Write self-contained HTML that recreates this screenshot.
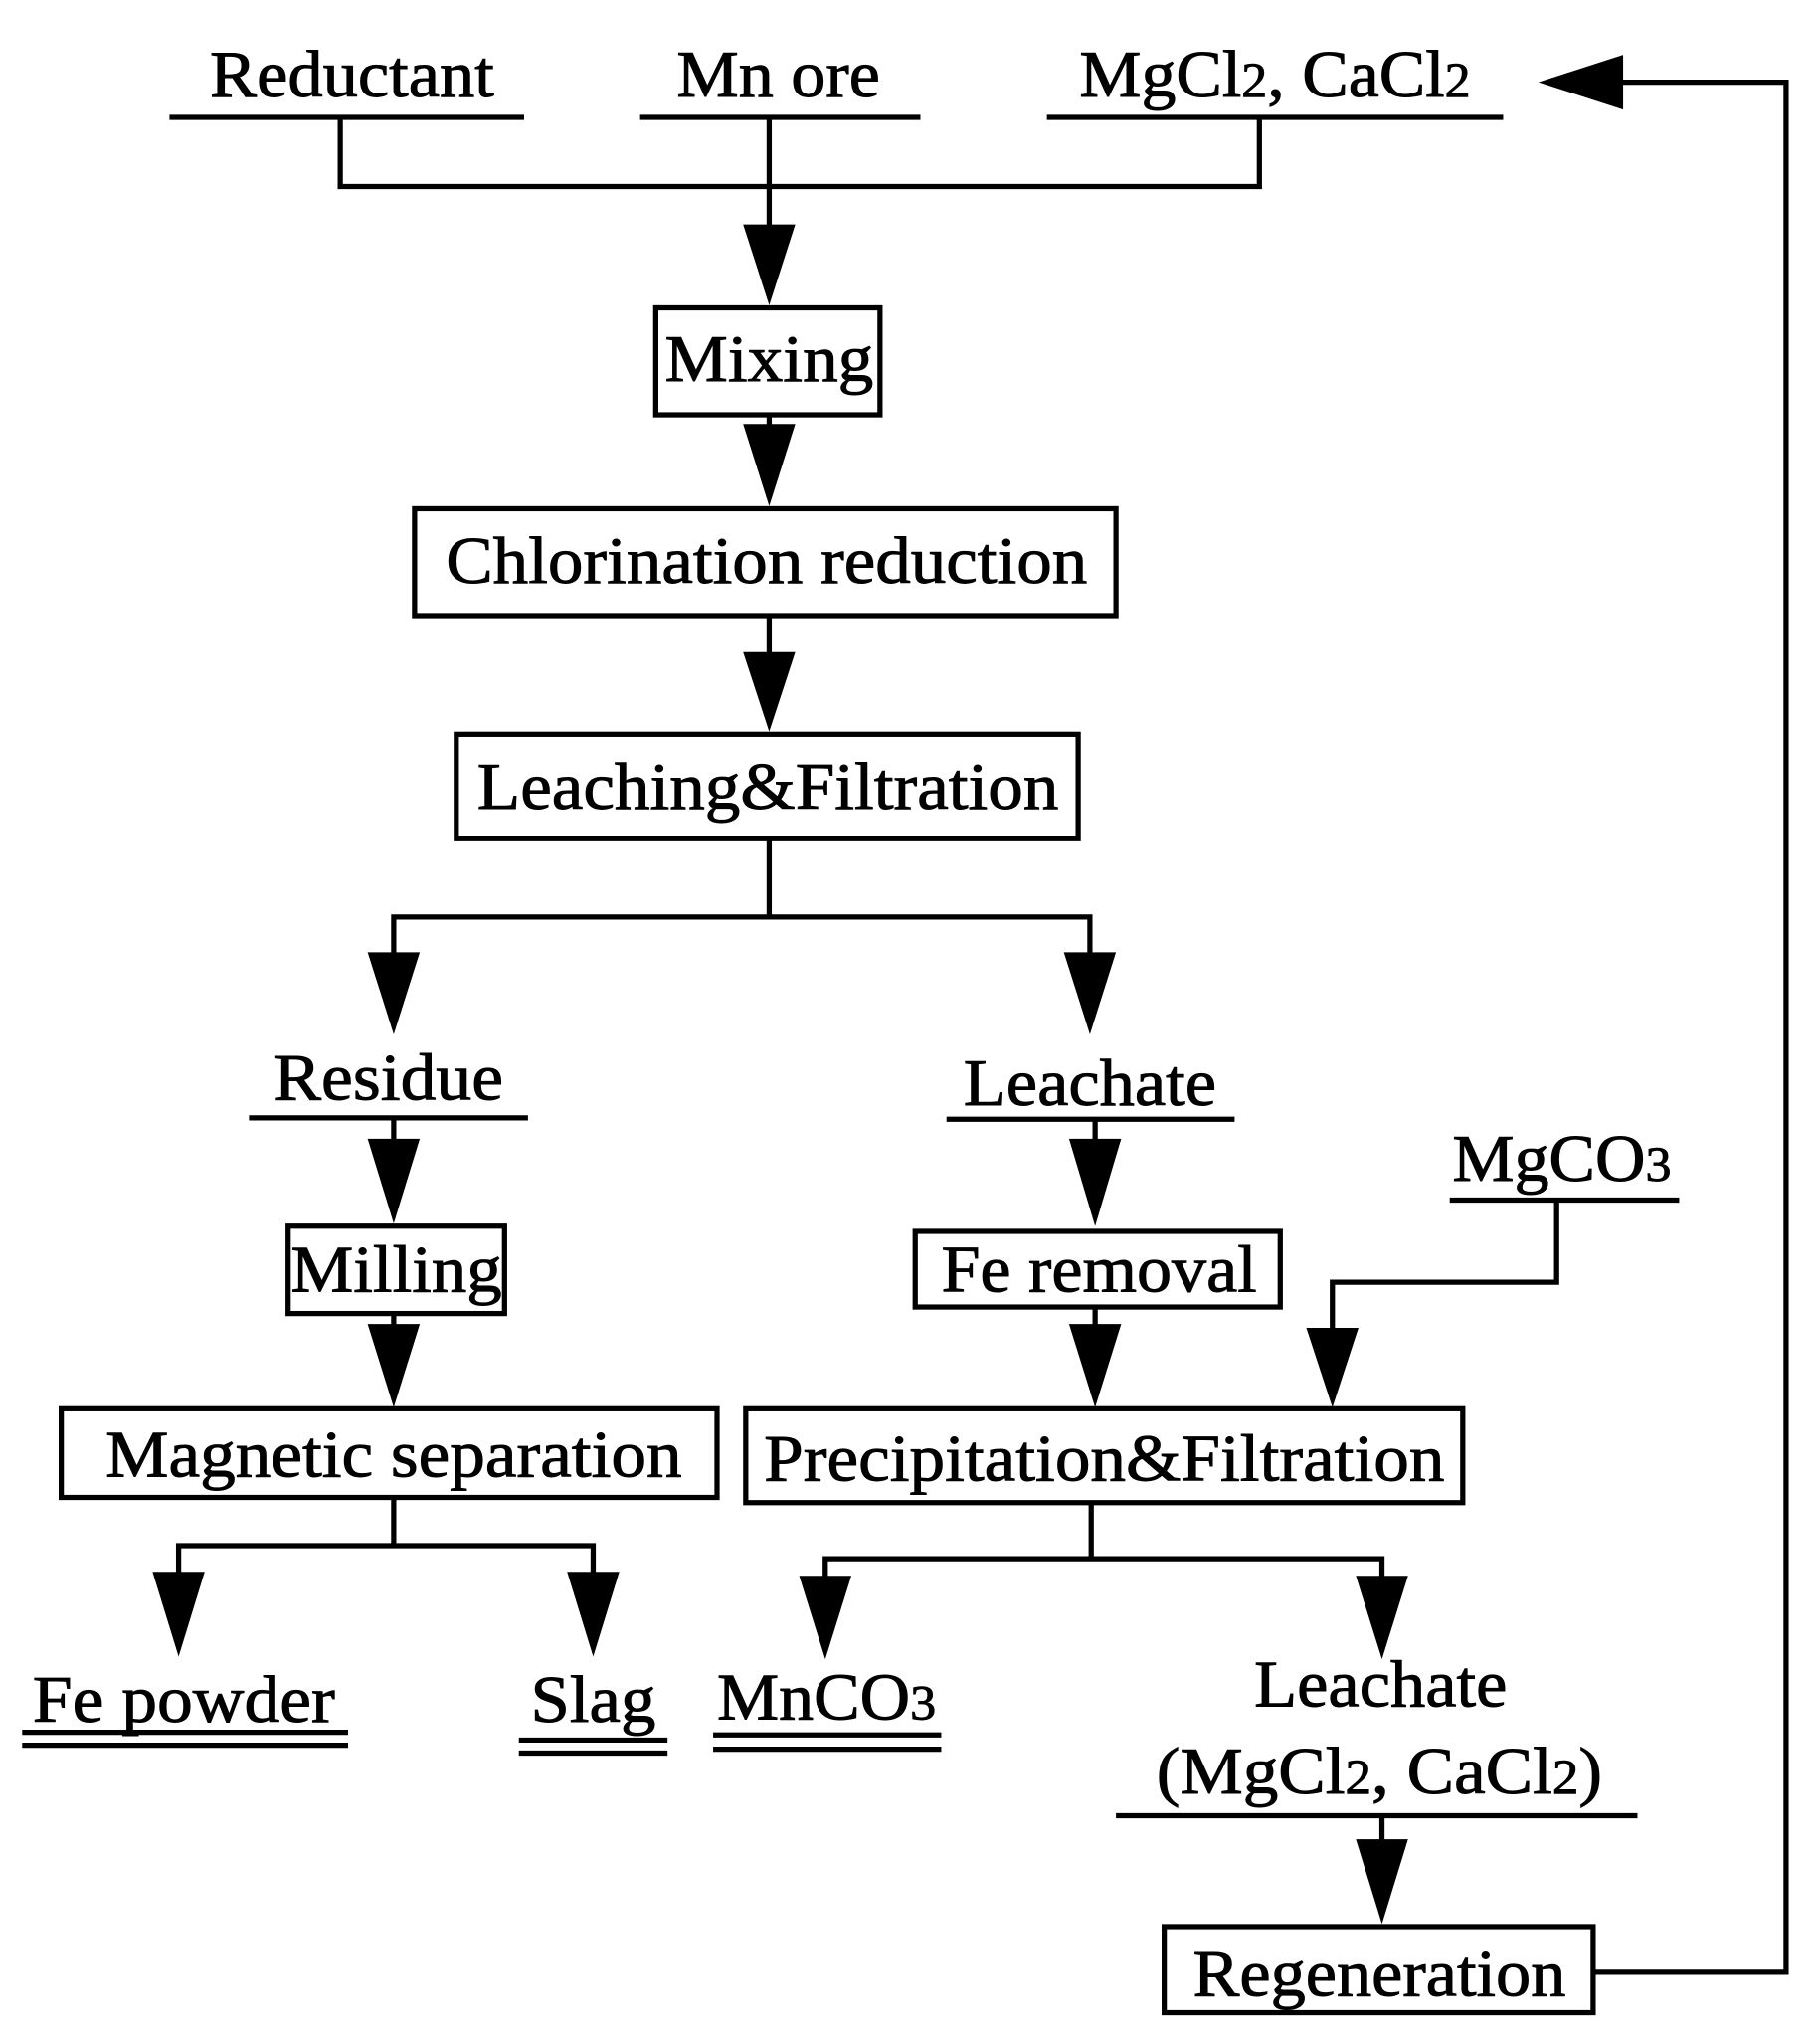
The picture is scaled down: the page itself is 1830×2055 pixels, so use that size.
<!DOCTYPE html>
<html><head><style>html,body{margin:0;padding:0;background:#fff}svg{display:block}</style></head>
<body>
<svg width="1830" height="2055" viewBox="0 0 1396 1567" preserveAspectRatio="none" xmlns="http://www.w3.org/2000/svg">
<g font-family="Liberation Serif, serif" font-size="51" fill="#000" stroke="#000" stroke-width="0.7" text-anchor="middle" lengthAdjust="spacingAndGlyphs">
<text x="270" y="74" textLength="218" lengthAdjust="spacingAndGlyphs">Reductant</text>
<text x="597" y="74" textLength="156" lengthAdjust="spacingAndGlyphs">Mn ore</text>
<text x="978" y="74" textLength="300" lengthAdjust="spacingAndGlyphs">MgCl<tspan font-size="38">2</tspan>, CaCl<tspan font-size="38">2</tspan></text>
<text x="590" y="292" textLength="160" lengthAdjust="spacingAndGlyphs">Mixing</text>
<text x="588" y="447" textLength="492" lengthAdjust="spacingAndGlyphs">Chlorination reduction</text>
<text x="589" y="620" textLength="446" lengthAdjust="spacingAndGlyphs">Leaching&amp;Filtration</text>
<text x="298" y="843" textLength="176" lengthAdjust="spacingAndGlyphs">Residue</text>
<text x="836" y="847" textLength="194" lengthAdjust="spacingAndGlyphs">Leachate</text>
<text x="1198" y="905" textLength="168" lengthAdjust="spacingAndGlyphs">MgCO<tspan font-size="38">3</tspan></text>
<text x="304" y="990" textLength="162" lengthAdjust="spacingAndGlyphs">Milling</text>
<text x="843" y="990" textLength="242" lengthAdjust="spacingAndGlyphs">Fe removal</text>
<text x="302" y="1132" textLength="442" lengthAdjust="spacingAndGlyphs">Magnetic separation</text>
<text x="847" y="1135" textLength="522" lengthAdjust="spacingAndGlyphs">Precipitation&amp;Filtration</text>
<text x="141" y="1320" textLength="232" lengthAdjust="spacingAndGlyphs">Fe powder</text>
<text x="455" y="1320" textLength="96" lengthAdjust="spacingAndGlyphs">Slag</text>
<text x="634" y="1318" textLength="168" lengthAdjust="spacingAndGlyphs">MnCO<tspan font-size="38">3</tspan></text>
<text x="1059" y="1308" textLength="194" lengthAdjust="spacingAndGlyphs">Leachate</text>
<text x="1058" y="1375" textLength="342" lengthAdjust="spacingAndGlyphs">(MgCl<tspan font-size="38">2</tspan>, CaCl<tspan font-size="38">2</tspan>)</text>
<text x="1058" y="1530" textLength="286" lengthAdjust="spacingAndGlyphs">Regeneration</text>
</g>
<g stroke="#000" stroke-width="4" fill="none">
<line x1="130" y1="90" x2="402" y2="90"/>
<line x1="491" y1="90" x2="706" y2="90"/>
<line x1="803" y1="90" x2="1153" y2="90"/>
<polyline points="261,90 261,143 966,143 966,90"/>
<line x1="590" y1="90" x2="590" y2="180"/>
<rect x="503" y="236" width="172" height="82"/>
<line x1="590" y1="318" x2="590" y2="330"/>
<rect x="318" y="390" width="538" height="82"/>
<line x1="590" y1="472" x2="590" y2="505"/>
<rect x="350" y="563" width="477" height="80"/>
<line x1="590" y1="643" x2="590" y2="703"/>
<polyline points="302,740 302,703 836,703 836,740"/>
<line x1="191" y1="857" x2="405" y2="857"/>
<line x1="726" y1="858" x2="947" y2="858"/>
<line x1="302" y1="857" x2="302" y2="880"/>
<rect x="221" y="940" width="166" height="67"/>
<line x1="302" y1="1007" x2="302" y2="1020"/>
<rect x="47" y="1080" width="503" height="68"/>
<line x1="840" y1="858" x2="840" y2="880"/>
<rect x="702" y="944" width="280" height="58"/>
<line x1="840" y1="1002" x2="840" y2="1020"/>
<line x1="1112" y1="920" x2="1288" y2="920"/>
<polyline points="1194,920 1194,983 1022,983 1022,1025"/>
<rect x="572" y="1080" width="550" height="72"/>
<line x1="302" y1="1148" x2="302" y2="1185"/>
<polyline points="137,1210 137,1185 455,1185 455,1210"/>
<line x1="837" y1="1152" x2="837" y2="1195"/>
<polyline points="633,1212 633,1195 1060,1195 1060,1212"/>
<line x1="17" y1="1328" x2="267" y2="1328"/>
<line x1="17" y1="1338" x2="267" y2="1338"/>
<line x1="398" y1="1334" x2="512" y2="1334"/>
<line x1="398" y1="1344" x2="512" y2="1344"/>
<line x1="547" y1="1330" x2="722" y2="1330"/>
<line x1="547" y1="1341" x2="722" y2="1341"/>
<line x1="856" y1="1392" x2="1256" y2="1392"/>
<line x1="1060" y1="1392" x2="1060" y2="1415"/>
<rect x="893" y="1477" width="329" height="66"/>
<polyline points="1222,1512 1370,1512 1370,63 1240,63"/>
</g>
<g fill="#000">
<polygon points="570,172 610,172 590,234"/>
<polygon points="570,325 610,325 590,388"/>
<polygon points="570,500 610,500 590,561"/>
<polygon points="282,730 322,730 302,793"/>
<polygon points="816,730 856,730 836,793"/>
<polygon points="282,873 322,873 302,938"/>
<polygon points="820,873 860,873 840,940"/>
<polygon points="282,1015 322,1015 302,1079"/>
<polygon points="820,1015 860,1015 840,1079"/>
<polygon points="1002,1018 1042,1018 1022,1079"/>
<polygon points="117,1205 157,1205 137,1270"/>
<polygon points="435,1205 475,1205 455,1270"/>
<polygon points="613,1208 653,1208 633,1272"/>
<polygon points="1040,1208 1080,1208 1060,1272"/>
<polygon points="1040,1410 1080,1410 1060,1475"/>
<polygon points="1245,42 1245,84 1180,63"/>
</g>
</svg>
</body></html>
